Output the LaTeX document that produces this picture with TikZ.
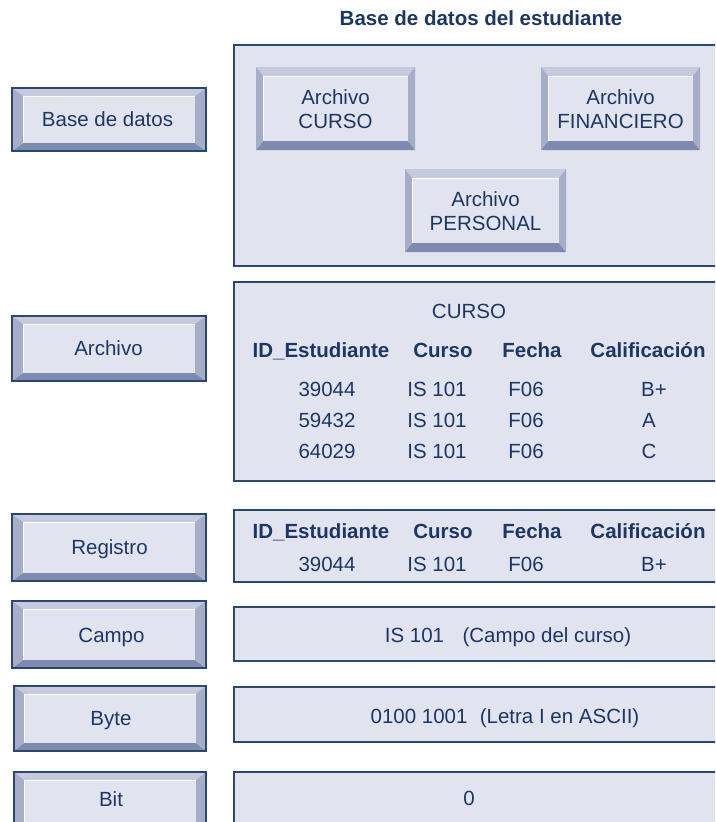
\documentclass[tikz,border=0pt]{standalone}
\usepackage{fontspec}
\setmainfont{Liberation Sans}
\definecolor{navy}{HTML}{2A4675}
\definecolor{face}{HTML}{E1E4EE}
\definecolor{bvlight}{HTML}{C6CADD}
\definecolor{bvmid}{HTML}{A5ADC9}
\definecolor{bvdark}{HTML}{7D8BB1}
\definecolor{txt}{HTML}{1C3766}
\newcommand\bvbutton[6]{% x1 y1 x2 y2 bx by
  \fill[bvlight] (#1,#2) -- (#3,#2) -- ({#3-#5},{#2+#6}) -- ({#1+#5},{#2+#6}) -- cycle;
  \fill[bvdark] (#1,#4) -- (#3,#4) -- ({#3-#5},{#4-#6}) -- ({#1+#5},{#4-#6}) -- cycle;
  \fill[bvmid] (#1,#2) -- ({#1+#5},{#2+#6}) -- ({#1+#5},{#4-#6}) -- (#1,#4) -- cycle;
  \fill[bvmid] (#3,#2) -- ({#3-#5},{#2+#6}) -- ({#3-#5},{#4-#6}) -- (#3,#4) -- cycle;
  \fill[face] ({#1+#5},{#2+#6}) rectangle ({#3-#5},{#4-#6});
  \draw[white,line width=1pt] ({#1+#5},{#4-#6}) -- ({#1+#5},{#2+#6}) -- ({#3-#5},{#2+#6});
}
\tikzset{
  panel/.style={draw=navy,line width=1.2pt,fill=face},
  btnborder/.style={draw=navy,line width=1.2pt},
  lbl2/.style={text=txt,font=\fontsize{20.5}{23.5}\selectfont,align=center,inner sep=0pt},
  lbl/.style={text=txt,font=\fontsize{20.5}{23.5}\selectfont,inner sep=0pt,text height=14.7pt,text depth=0pt},
  hdr/.style={lbl,font=\fontsize{20.5}{23.5}\selectfont\bfseries},
}
\begin{document}
\begin{tikzpicture}[x=1pt,y=-1pt]
\useasboundingbox (0,0) rectangle (715,822);
\clip (0,0) rectangle (715,822);
% title
\node[hdr] (title) at (481,18) {Base de datos del estudiante};
% panels
\draw[panel] (234,45) rectangle (725,266);
\draw[panel] (234,282) rectangle (725,481);
\draw[panel] (234,510) rectangle (725,582);
\draw[panel] (234,607) rectangle (725,661);
\draw[panel] (234,687) rectangle (725,742);
\draw[panel] (234,772) rectangle (725,840);
% left buttons
\bvbutton{12}{88}{206}{151}{11}{8}
\draw[btnborder] (12,88) rectangle (206,151);
\node[lbl] (bd) at (107.5,119) {Base de datos};
\bvbutton{12}{316}{206}{381}{11}{8}
\draw[btnborder] (12,316) rectangle (206,381);
\node[lbl] (arch) at (108.5,348) {Archivo};
\bvbutton{12}{514}{206}{581}{11}{8}
\draw[btnborder] (12,514) rectangle (206,581);
\node[lbl] (reg) at (109.5,547) {Registro};
\bvbutton{12}{601}{206}{668}{11}{8}
\draw[btnborder] (12,601) rectangle (206,668);
\node[lbl] (campo) at (111.5,635) {Campo};
\bvbutton{14}{686}{206}{751}{10}{8}
\draw[btnborder] (14,686) rectangle (206,751);
\node[lbl] (byte) at (111,718) {Byte};
\bvbutton{14}{772}{206}{850}{10}{8}
\draw[btnborder] (14,772) rectangle (206,850);
\node[lbl] (bit) at (111,799) {Bit};
% inner buttons
\bvbutton{256}{67}{415}{150}{7}{9}
\node[lbl2] (acurso) at (335.5,109) {Archivo\\CURSO};
\bvbutton{541}{67}{700}{150}{7}{9}
\node[lbl2] (afin) at (620.5,109) {Archivo\\FINANCIERO};
\bvbutton{405}{169}{566}{252}{7}{9}
\node[lbl2] (apers) at (485.5,211) {Archivo\\PERSONAL};
% table CURSO
\node[lbl] (tcurso) at (469,311) {CURSO};
\node[hdr] (h1) at (321,350) {ID\_Estudiante};
\node[hdr] (h2) at (443,350) {Curso};
\node[hdr] (h3) at (532,350) {Fecha};
\node[hdr] (h4) at (648,350) {Calificación};
\node[lbl] (r11) at (327,389) {39044};
\node[lbl] (r12) at (437,389) {IS 101};
\node[lbl] (r13) at (526,389) {F06};
\node[lbl] (r14) at (654,389) {B+};
\node[lbl] (r21) at (327,420) {59432};
\node[lbl] (r22) at (437,420) {IS 101};
\node[lbl] (r23) at (526,420) {F06};
\node[lbl] (r24) at (649,420) {A};
\node[lbl] (r31) at (327,451) {64029};
\node[lbl] (r32) at (437,451) {IS 101};
\node[lbl] (r33) at (526,451) {F06};
\node[lbl] (r34) at (649,451) {C};
% registro
\node[hdr] (g1) at (321,531) {ID\_Estudiante};
\node[hdr] (g2) at (443,531) {Curso};
\node[hdr] (g3) at (532,531) {Fecha};
\node[hdr] (g4) at (648,531) {Calificación};
\node[lbl] (s1) at (327,564) {39044};
\node[lbl] (s2) at (437,564) {IS 101};
\node[lbl] (s3) at (526,564) {F06};
\node[lbl] (s4) at (654,564) {B+};
% campo, byte, bit
\node[lbl] (vcampo) at (508,635) {IS 101\hspace{0.9em}(Campo del curso)};
\node[lbl] (vbyte) at (505,716) {0100 1001\hspace{0.6em}(Letra I en ASCII)};
\node[lbl] (vbit) at (469,798) {0};
\end{tikzpicture}
\end{document}
